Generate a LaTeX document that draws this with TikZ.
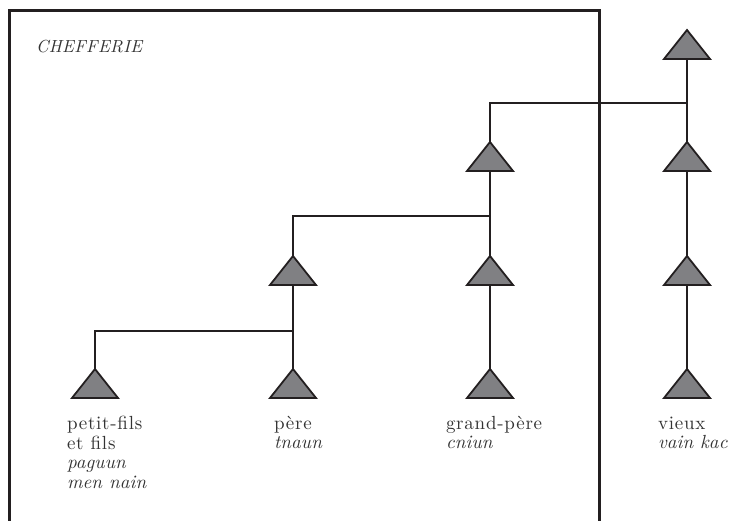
\documentclass[tikz,border=0pt]{standalone}
\usepackage{fontspec}
\setmainfont{lmroman10-regular.otf}[ItalicFont=lmroman10-italic.otf, LetterSpace=4]
\newfontfamily\itfont{lmroman10-italic.otf}[LetterSpace=0.5]
\newfontfamily\capfont{lmroman10-italic.otf}[LetterSpace=2]
\definecolor{linecol}{HTML}{231F20}
\definecolor{trifill}{HTML}{808083}
\definecolor{txtcol}{HTML}{333333}
\newcommand\kintri[3]{%
  \coordinate (#1) at (#2,#3);
  \coordinate (#1b) at (#2,#3+29);
  \draw[tri] (#1) -- ++(-23,29) -- ++(46,0) -- cycle;}
\begin{document}
\begin{tikzpicture}[x=1pt,y=-1pt,
  frame/.style={line width=3pt, draw=linecol},
  link/.style={line width=2.4pt, draw=linecol},
  tri/.style={fill=trifill, draw=linecol, line width=1.8pt, line join=miter},
  lbl/.style={anchor=base west, inner sep=0pt, outer sep=0pt, text=txtcol, font=\fontsize{19}{22}\selectfont},
  ilbl/.style={lbl, font=\fontsize{19}{22}\selectfont\itfont}]
\useasboundingbox (0,0) rectangle (730,521);
% frame
\coordinate (fbl) at (9.5,530);
\coordinate (ftl) at (9.5,11);
\coordinate (ftr) at (599,11);
\coordinate (fbr) at (599,530);
\draw[frame] (fbl) -- (ftl) -- (ftr) -- (fbr);
\node[lbl, font=\fontsize{17.5}{20}\selectfont\capfont] (chef) at (36,53) {CHEFFERIE};
% junction points
\coordinate (j1) at (293,331);
\coordinate (j2) at (490,216);
\coordinate (j3) at (687,103);
% link end points (apex and base of triangles)
\coordinate (pf) at (95,369);
\coordinate (p1) at (293,369); \coordinate (p2) at (293,256); \coordinate (p2b) at (293,285);
\coordinate (g1) at (490,369); \coordinate (g2) at (490,256); \coordinate (g2b) at (490,285);
\coordinate (g3) at (490,142); \coordinate (g3b) at (490,171);
\coordinate (v1) at (687,369); \coordinate (v2) at (687,256); \coordinate (v2b) at (687,285);
\coordinate (v3) at (687,142); \coordinate (v3b) at (687,171);
\coordinate (v4b) at (687,59);
\draw[link] (pf) |- (j1);
\draw[link] (p1) -- (p2b);
\draw[link] (p2) |- (j2);
\draw[link] (g1) -- (g2b);
\draw[link] (g2) -- (g3b);
\draw[link] (g3) |- (j3);
\draw[link] (v1) -- (v2b);
\draw[link] (v2) -- (v3b);
\draw[link] (v3) -- (v4b);
% triangles
\kintri{tpf}{95}{369}
\kintri{tp1}{293}{369}
\kintri{tp2}{293}{256}
\kintri{tg1}{490}{369}
\kintri{tg2}{490}{256}
\kintri{tg3}{490}{142}
\kintri{tv1}{687}{369}
\kintri{tv2}{687}{256}
\kintri{tv3}{687}{142}
\kintri{tv4}{687}{30}
% labels
\node[lbl] (pfa) at (67,429) {petit-fils};
\node[lbl] (pfb) at (67,449) {et fils};
\node[ilbl] (pfc) at (67,468) {paguun};
\node[ilbl] (pfd) at (67,488) {men nain};
\node[lbl] (pea) at (274,429) {père};
\node[ilbl] (peb) at (274,448) {tnaun};
\node[lbl] (gpa) at (446,429) {grand-père};
\node[ilbl] (gpb) at (446,448) {cniun};
\node[lbl] (via) at (658,429) {vieux};
\node[ilbl] (vib) at (658,448) {vain kac};
\end{tikzpicture}
\end{document}
